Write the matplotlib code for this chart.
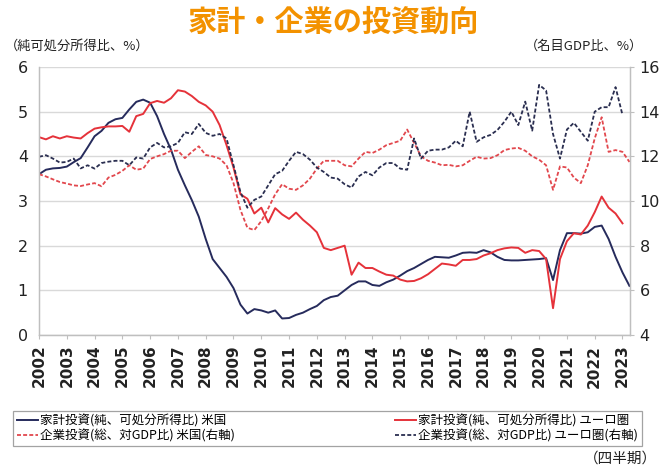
import numpy as np
import matplotlib
matplotlib.use("Agg")
import matplotlib.pyplot as plt
from matplotlib.font_manager import FontProperties

plt.rcParams['font.family'] = ['Noto Sans CJK JP', 'DejaVu Sans']

# quarterly data starting 2002Q1
start_year = 2002

# household investment (net, % of disposable income) - left axis
us_household = [
    3.60, 3.70, 3.73, 3.74,  # 2002
    3.77, 3.87, 3.96, 4.20,  # 2003
    4.45, 4.57, 4.75, 4.83,  # 2004
    4.86, 5.05, 5.22, 5.27,  # 2005
    5.20, 4.90, 4.50, 4.15,  # 2006
    3.70, 3.35, 3.02, 2.65,  # 2007
    2.15, 1.70, 1.50, 1.30,  # 2008
    1.05, 0.68, 0.48, 0.58,  # 2009
    0.55, 0.50, 0.55, 0.37,  # 2010
    0.38, 0.45, 0.50, 0.58,  # 2011
    0.65, 0.78, 0.85, 0.88,  # 2012
    1.00, 1.12, 1.20, 1.20,  # 2013
    1.12, 1.10, 1.18, 1.24,  # 2014
    1.33, 1.43, 1.50, 1.59,  # 2015
    1.68, 1.75, 1.74, 1.73,  # 2016
    1.78, 1.84, 1.85, 1.84,  # 2017
    1.90, 1.85, 1.75, 1.68,  # 2018
    1.67, 1.67, 1.68, 1.69,  # 2019
    1.70, 1.72, 1.23, 1.90,  # 2020
    2.28, 2.28, 2.27, 2.30,  # 2021
    2.42, 2.45, 2.15, 1.75,  # 2022
    1.40, 1.10,              # 2023
]
ez_household = [
    4.43, 4.38, 4.45, 4.40,
    4.45, 4.42, 4.40, 4.52,
    4.62, 4.65, 4.67, 4.67,
    4.68, 4.55, 4.90, 4.95,
    5.19, 5.24, 5.20, 5.30,
    5.48, 5.45, 5.35, 5.22,
    5.14, 5.00, 4.70, 4.25,
    3.75, 3.15, 3.05, 2.72,
    2.85, 2.52, 2.84, 2.70,
    2.60, 2.74, 2.58, 2.45,
    2.30, 1.95, 1.90, 1.95,
    2.00, 1.35, 1.62, 1.50,
    1.50, 1.42, 1.35, 1.33,
    1.24, 1.20, 1.21, 1.27,
    1.36, 1.48, 1.60, 1.58,
    1.55, 1.68, 1.68, 1.70,
    1.78, 1.83, 1.90, 1.94,
    1.96, 1.95, 1.84, 1.90,
    1.88, 1.70, 0.60, 1.70,
    2.10, 2.28, 2.25, 2.45,
    2.75, 3.10, 2.85, 2.72,
    2.50,
]

# corporate investment (gross, % of nominal GDP) - right axis
us_corporate = [
    11.20, 11.10, 10.97, 10.85,
    10.78, 10.70, 10.67, 10.74,
    10.80, 10.66, 11.05, 11.17,
    11.35, 11.60, 11.40, 11.45,
    11.88, 12.00, 12.10, 12.25,
    12.25, 11.92, 12.20, 12.45,
    12.06, 12.00, 11.90, 11.60,
    10.80, 9.60, 8.80, 8.70,
    9.10, 9.67, 10.30, 10.75,
    10.55, 10.50, 10.70, 11.00,
    11.45, 11.80, 11.80, 11.80,
    11.60, 11.55, 11.90, 12.20,
    12.15, 12.30, 12.50, 12.60,
    12.70, 13.20, 12.60, 12.00,
    11.80, 11.72, 11.60, 11.62,
    11.55, 11.60, 11.80, 11.98,
    11.90, 11.92, 12.05, 12.28,
    12.35, 12.38, 12.25, 12.00,
    11.85, 11.60, 10.50, 11.55,
    11.50, 11.05, 10.80, 11.60,
    12.80, 13.75, 12.20, 12.28,
    12.20, 11.75,
]
ez_corporate = [
    11.98, 12.05, 11.90, 11.72,
    11.75, 11.90, 11.46, 11.60,
    11.45, 11.70, 11.76, 11.80,
    11.80, 11.60, 11.95, 11.90,
    12.40, 12.60, 12.40, 12.45,
    12.60, 13.08, 13.00, 13.45,
    13.05, 12.92, 13.00, 12.80,
    11.60, 10.40, 9.70, 10.05,
    10.20, 10.70, 11.20, 11.35,
    11.80, 12.20, 12.10, 11.85,
    11.50, 11.30, 11.05, 11.00,
    10.75, 10.60, 11.10, 11.30,
    11.15, 11.50, 11.70, 11.70,
    11.45, 11.40, 12.80, 11.90,
    12.25, 12.30, 12.30, 12.40,
    12.70, 12.45, 14.00, 12.65,
    12.85, 12.96, 13.18, 13.55,
    14.00, 13.40, 14.45, 13.15,
    15.20, 14.95, 13.00, 11.90,
    13.20, 13.50, 13.10, 12.70,
    14.00, 14.20, 14.20, 15.10,
    13.85,
]

years = list(range(2002, 2024))
left_ticks = [0, 1, 2, 3, 4, 5, 6]
right_ticks = [4, 6, 8, 10, 12, 14, 16]

labels = [
    "家計投資(純、可処分所得比) 米国",
    "企業投資(総、対GDP比) 米国(右軸)",
    "家計投資(純、可処分所得比) ユーロ圏",
    "企業投資(総、対GDP比) ユーロ圏(右軸)",
]


def quarters(values):
    return start_year + np.arange(len(values)) / 4.0


navy = "#262b5c"
red = "#e5323a"
red_dash = "#e2474d"
navy_dash = "#2a2e50"
grid_col = "#d9d9d9"
spine_col = "#bfbfbf"

W, H = 662, 470
fig = plt.figure(figsize=(W / 100, H / 100), dpi=100)
ax = fig.add_axes([39 / W, 1 - 335 / H, 591 / W, 268 / H])
ax2 = ax.twinx()

ax.set_ylim(0, 6)
ax.set_yticks(left_ticks)
ax2.set_ylim(4, 16)
ax2.set_yticks(right_ticks)
ax.set_xlim(2002, 2023.27)
ax.set_xticks(years)
ax.set_xticklabels([str(y) for y in years], rotation=90,
                   fontweight="bold", fontsize=11, family="DejaVu Sans",
                   color="#222222")
ax.grid(axis="y", color=grid_col, linewidth=1.0)
ax.set_axisbelow(True)

for a in (ax, ax2):
    a.spines["top"].set_visible(False)
    for s in ("left", "right", "bottom"):
        a.spines[s].set_color(spine_col)
        a.spines[s].set_linewidth(0.9)

ax.tick_params(axis="y", length=0, pad=8, labelsize=11.5, labelcolor="#222222")
ax.tick_params(axis="x", length=3, color=spine_col, pad=4)
ax2.tick_params(axis="y", length=3, color=spine_col, pad=4, labelsize=11.5,
                labelcolor="#222222")
for t in ax.get_yticklabels() + ax2.get_yticklabels():
    t.set_family("DejaVu Sans")

h_us, = ax.plot(quarters(us_household), us_household, color=navy, lw=1.4)
h_ez, = ax.plot(quarters(ez_household), ez_household, color=red, lw=1.4)
h_usc, = ax2.plot(quarters(us_corporate), us_corporate, color=red_dash, lw=1.3,
                  linestyle=(0, (2.2, 1.2)))
h_ezc, = ax2.plot(quarters(ez_corporate), ez_corporate, color=navy_dash, lw=1.3,
                  linestyle=(0, (2.2, 1.2)))

fig.text(333 / W, 1 - 22 / H, "家計・企業の投資動向", ha="center", va="center",
         fontsize=21, fontweight="bold", color="#f39200")
fig.text(5 / W, 1 - 46 / H, "（純可処分所得比、%）", ha="left", va="center",
         fontsize=9.5, color="#222222")
fig.text(643 / W, 1 - 46 / H, "（名目GDP比、%）", ha="right", va="center",
         fontsize=9.5, color="#222222")
fig.text(657 / W, 1 - 459 / H, "（四半期）", ha="right", va="center",
         fontsize=10.5, color="#222222")

leg = fig.legend([h_us, h_usc, h_ez, h_ezc], labels, ncol=2,
                 loc="lower left", mode="expand",
                 bbox_to_anchor=(13 / W, 1 - 446 / H, 629 / W, 44 / H),
                 prop=FontProperties(family=["Noto Sans CJK JP", "DejaVu Sans"], size=9),
                 frameon=True, fancybox=False, edgecolor="#8c8c8c",
                 handlelength=1.7, handletextpad=0.2, borderaxespad=0,
                 labelspacing=0.1, borderpad=0.3)
leg.get_frame().set_linewidth(0.9)

fig.savefig("out.png", dpi=100)
